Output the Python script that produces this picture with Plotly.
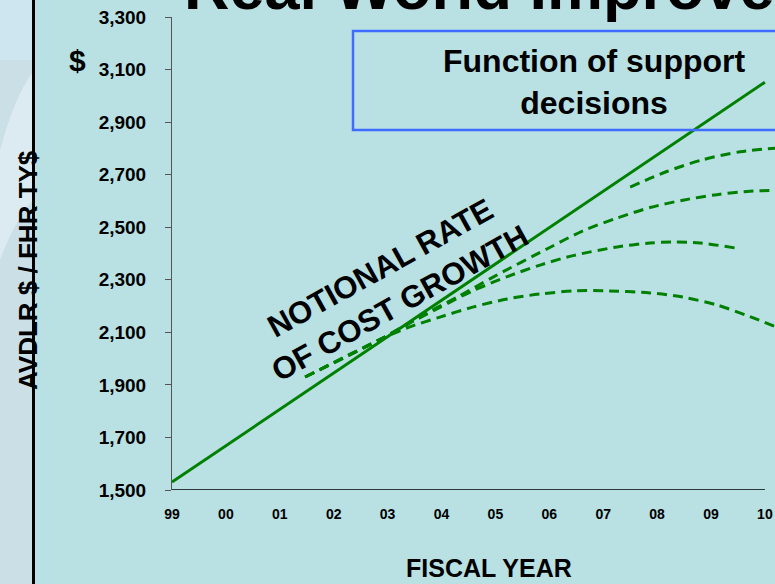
import plotly.graph_objects as go

# ---------------- data ----------------
year_labels = ['99', '00', '01', '02', '03', '04', '05', '06', '07', '08', '09', '10']
year_pos = list(range(len(year_labels)))
y_tick_vals = [1500, 1700, 1900, 2100, 2300, 2500, 2700, 2900, 3100, 3300]

trend_x = [0, 11]
trend_y = [1530, 3052]

alt1_x = [8.5, 9.18, 9.85, 10.54, 11.19]
alt1_y = [2653, 2712, 2757, 2787, 2801]

alt2_x = [2.47, 3.91, 4.6, 5.3, 6.0, 7.0, 7.63, 8.26, 8.87, 9.48, 10.11, 10.72, 11.19]
alt2_y = [1930, 2078, 2160, 2235, 2315, 2422, 2487, 2535, 2575, 2603, 2624, 2637, 2640]

alt3_x = [2.47, 3.91, 4.5, 4.97, 5.58, 6.22, 6.83, 7.44, 8.26, 8.87, 9.28, 9.8, 10.45]
alt3_y = [1930, 2078, 2145, 2195, 2258, 2312, 2356, 2392, 2425, 2440, 2444, 2440, 2421]

alt4_x = [2.47, 3.91, 4.4, 4.97, 5.58, 6.22, 6.83, 7.5, 8.03, 8.87, 9.48, 10.11, 10.72, 11.19]
alt4_y = [1930, 2078, 2120, 2158, 2196, 2227, 2246, 2258, 2258, 2250, 2234, 2204, 2160, 2122]

# ---------------- layout helpers ----------------
W, H = 775, 584
ML, MR, MT, MB = 172, 0, 17, 94
PW, PH = W - ML - MR, H - MT - MB


def px(p):
    return (p - ML) / PW


def py(p):
    return (H - MB - p) / PH


GREEN = 'rgb(0,128,0)'
BG = '#B9E0E3'
FONT = 'Liberation Sans, Arial, sans-serif'

fig = go.Figure()

fig.add_trace(go.Scatter(x=trend_x, y=trend_y, mode='lines',
                         line=dict(color=GREEN, width=3), showlegend=False, hoverinfo='skip'))
for xs, ys in [(alt1_x, alt1_y), (alt2_x, alt2_y), (alt3_x, alt3_y), (alt4_x, alt4_y)]:
    fig.add_trace(go.Scatter(x=xs, y=ys, mode='lines',
                             line=dict(color=GREEN, width=3, dash='10px,6px', shape='spline', smoothing=0.8),
                             showlegend=False, hoverinfo='skip'))

shapes = [
    # left decorative strip
    dict(type='rect', xref='paper', yref='paper', x0=px(-5), x1=px(33), y0=py(590), y1=py(-5),
         fillcolor='#CBDFE7', line=dict(width=0), layer='below'),
    dict(type='rect', xref='paper', yref='paper', x0=px(-5), x1=px(33), y0=py(60), y1=py(-5),
         fillcolor='#CDE6F0', line=dict(width=0), layer='below'),
    dict(type='path', xref='paper', yref='paper',
         path=f'M {px(0)},{py(150)} Q {px(15)},{py(95)} {px(33)},{py(72)} L {px(33)},{py(200)} Q {px(15)},{py(220)} {px(0)},{py(260)} Z',
         fillcolor='#DCEBF1', line=dict(width=0), layer='below'),
    # black divider line
    dict(type='line', xref='paper', yref='paper', x0=px(33.5), x1=px(33.5), y0=py(590), y1=py(-5),
         line=dict(color='black', width=3)),
    # x axis line
    dict(type='line', xref='x', yref='y', x0=-0.11, x1=11, y0=1500, y1=1500,
         line=dict(color='black', width=1.5)),
    # box
    dict(type='rect', xref='paper', yref='paper', x0=px(353), x1=px(800), y0=py(130), y1=py(31),
         line=dict(color='#3F6BFF', width=2.5), fillcolor='rgba(0,0,0,0)'),
]

annotations = [
    dict(text='<b>Real World Improvements</b>', xref='paper', yref='paper', x=px(182), y=py(24),
         xanchor='left', yanchor='bottom', showarrow=False, font=dict(family=FONT, size=63, color='black')),
    dict(text='<b>Function of support<br>decisions</b>', xref='paper', yref='paper', x=px(594), y=py(82),
         xanchor='center', yanchor='middle', showarrow=False, font=dict(family=FONT, size=32, color='black')),
    dict(text='<b>NOTIONAL RATE<br>OF COST GROWTH</b>', xref='paper', yref='paper', x=px(390), y=py(285),
         xanchor='center', yanchor='middle', showarrow=False, textangle=-29,
         font=dict(family=FONT, size=31, color='black')),
    dict(text='<b>AVDLR $ / FHR TY$</b>', xref='paper', yref='paper', x=px(28), y=py(270),
         xanchor='center', yanchor='middle', showarrow=False, textangle=-90,
         font=dict(family=FONT, size=26, color='black')),
    dict(text='<b>$</b>', xref='paper', yref='paper', x=px(78), y=py(60),
         xanchor='center', yanchor='middle', showarrow=False, font=dict(family=FONT, size=30, color='black')),
    dict(text='<b>FISCAL YEAR</b>', xref='paper', yref='paper', x=px(489), y=py(568),
         xanchor='center', yanchor='middle', showarrow=False, font=dict(family=FONT, size=25, color='black')),
]

fig.update_layout(
    width=W, height=H,
    margin=dict(l=ML, r=MR, t=MT, b=MB, pad=0),
    paper_bgcolor=BG, plot_bgcolor=BG,
    shapes=shapes, annotations=annotations,
    showlegend=False,
    font=dict(family=FONT, color='black'),
    xaxis=dict(range=[0, (W - ML) / 53.9], tickmode='array', tickvals=year_pos,
               ticktext=[f'<b>{t}</b>' for t in year_labels], showgrid=False, zeroline=False,
               showline=False, ticks='', ticklabelstandoff=14,
               tickfont=dict(family=FONT, size=14, color='black')),
    yaxis=dict(range=[1500, 3300], tickmode='array', tickvals=y_tick_vals,
               ticktext=[f'<b>{v:,}</b>' for v in y_tick_vals], showgrid=False, zeroline=False,
               showline=True, linecolor='#555555', linewidth=1, ticks='outside', ticklen=6,
               tickcolor='#555555', tickwidth=1, ticklabelstandoff=15,
               tickfont=dict(family=FONT, size=19, color='black')),
)

fig.write_html('out.html')
